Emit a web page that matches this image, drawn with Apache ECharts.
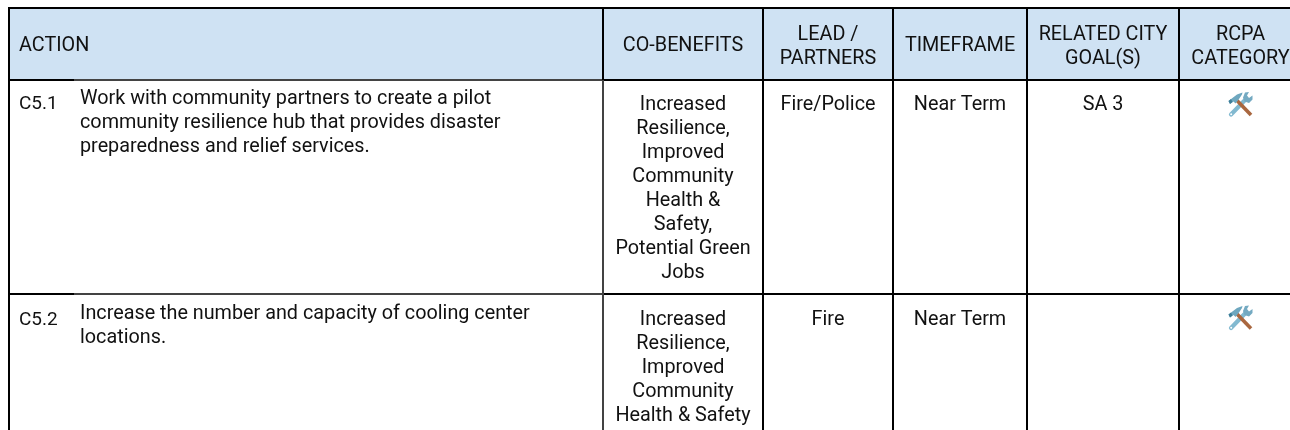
<!DOCTYPE html>
<html><head><meta charset="utf-8">
<style>html,body{margin:0;padding:0;background:#fff}#c{width:1290px;height:430px}</style>
<script src="https://cdn.jsdelivr.net/npm/echarts@6/dist/echarts.min.js"></script>
</head><body><div id="c"></div>
<script>
const headers = ['ACTION','CO-BENEFITS','LEAD /\nPARTNERS','TIMEFRAME','RELATED CITY\nGOAL(S)','RCPA\nCATEGORY'];
const actionIds = ['C5.1','C5.2'];
const actionTexts = [
  'Work with community partners to create a pilot\ncommunity resilience hub that provides disaster\npreparedness and relief services.',
  'Increase the number and capacity of cooling center\nlocations.'
];
const coBenefits = [
  'Increased\nResilience,\nImproved\nCommunity\nHealth &\nSafety,\nPotential Green\nJobs',
  'Increased\nResilience,\nImproved\nCommunity\nHealth & Safety'
];
const leads = ['Fire/Police','Fire'];
const timeframes = ['Near Term','Near Term'];
const cityGoals = ['SA 3',''];
const rcpaIcons = [1,1];

// layout
const colEdges = [9,603,763,893,1027,1179,1292];
const rowEdges = [8,80,294,432];
const FONT = '"Roboto","Noto Sans",sans-serif';
const SIZE = 19.8, ID_SIZE = 19, LH = 24;
const BLACK = '#000', GREY = '#434343', HEAD = '#cfe2f3', INK = '#111';

const fills = [[colEdges[0],rowEdges[0],colEdges[6],rowEdges[1],HEAD]];
const segs = [
  [8,8,1290,8,BLACK],
  [8,80,74,80,BLACK],[74,80,603,80,GREY],[603,80,1290,80,BLACK],
  [8,294,74,294,BLACK],[74,294,603,294,GREY],[603,294,1290,294,BLACK],
  [9,8,9,430,BLACK],[603,8,603,80,BLACK],[603,80,603,430,GREY]
];
colEdges.slice(2,6).forEach(x=>segs.push([x,8,x,430,BLACK]));

const center = i => (colEdges[i]+colEdges[i+1])/2;
const texts = [];
function put(str,x,y,align,size){ str.split('\n').forEach((s,k)=>{ if(s) texts.push([x,y+k*LH,s,align,size||SIZE]); }); }
put(headers[0],19,46,'left');
headers.slice(1).forEach((h,i)=>{
  const two = h.includes('\n');
  put(h,center(i+1)+(i===4?5:0),two?34.8:46.5,'center');
});
const firstLine = [105.5,320.5], firstId = [104.5,320.5], firstAction=[99,314.5];
actionIds.forEach((id,r)=>{
  put(id,19,firstId[r],'left',ID_SIZE);
  put(actionTexts[r],80,firstAction[r],'left');
  put(coBenefits[r],center(1),firstLine[r],'center');
  put(leads[r],center(2),firstLine[r],'center');
  put(timeframes[r],center(3),firstLine[r],'center');
  put(cityGoals[r],center(4),firstLine[r],'center');
});
const icons = [[1240.5,104.5],[1240.5,318]].filter((_,r)=>rcpaIcons[r]);

const chart = echarts.init(document.getElementById('c'),null,{renderer:'canvas'});
chart.setOption({
  animation:false,
  grid:{left:0,right:0,top:0,bottom:0},
  xAxis:{type:'value',min:0,max:1290,show:false},
  yAxis:{type:'value',min:0,max:430,inverse:true,show:false},
  series:[
    {type:'custom',coordinateSystem:'cartesian2d',silent:true,z:1,data:fills,clip:true,
     renderItem:(p,api)=>{
       const a=api.coord([api.value(0),api.value(1)]),b=api.coord([api.value(2),api.value(3)]);
       return {type:'rect',shape:{x:a[0],y:a[1],width:b[0]-a[0],height:b[1]-a[1]},style:{fill:fills[p.dataIndex][4]}};
     }},
    {type:'custom',coordinateSystem:'cartesian2d',silent:true,z:2,data:segs,clip:true,
     renderItem:(p,api)=>{
       const a=api.coord([api.value(0),api.value(1)]),b=api.coord([api.value(2),api.value(3)]);
       return {type:'line',shape:{x1:a[0],y1:a[1],x2:b[0],y2:b[1]},style:{stroke:segs[p.dataIndex][4],lineWidth:2}};
     }},
    {type:'custom',coordinateSystem:'cartesian2d',silent:true,z:3,data:texts,clip:true,
     renderItem:(p,api)=>{
       const t=texts[p.dataIndex],a=api.coord([t[0],t[1]]);
       return {type:'text',x:a[0],y:a[1],style:{text:t[2],fill:INK,font:t[4]+'px '+FONT,textAlign:t[3],textVerticalAlign:'middle'}};
     }},
    {type:'custom',coordinateSystem:'cartesian2d',silent:true,z:4,data:icons,clip:true,
     renderItem:(p,api)=>{
       const c=api.coord([api.value(0),api.value(1)]);
       return {type:'group',x:c[0],y:c[1],children:[
         {type:'line',shape:{x1:-9.5,y1:10,x2:5.5,y2:-5.5},style:{stroke:'#82b9d0',lineWidth:4.2,lineCap:'round'}},
         {type:'circle',shape:{cx:-9.3,cy:9.8,r:1},style:{fill:'#ffffff'}},
         {type:'polygon',shape:{points:[[2.5,-7],[4.5,-12],[8.5,-12.5],[6.5,-9],[8.5,-6.5],[12,-9],[12,-5],[8.5,-1.5],[4,-3]]},style:{fill:'#74aac2'}},
         {type:'line',shape:{x1:-3.5,y1:-4,x2:10.5,y2:10.5},style:{stroke:'#a9673f',lineWidth:3.6}},
         {type:'polygon',shape:{points:[[-12,-3.5],[-3.5,-10],[2,-12],[1.5,-10],[-1.5,-5.5],[-5,-1],[-7,-3],[-10.5,-0.5]]},style:{fill:'#6ea7bf'}},
         {type:'polygon',shape:{points:[[-12,-3.5],[-9.5,-5.5],[-8,-2.5],[-10.5,-0.5]]},style:{fill:'#3f7f99'}}
       ]};
     }}
  ]
});
</script></body></html>
